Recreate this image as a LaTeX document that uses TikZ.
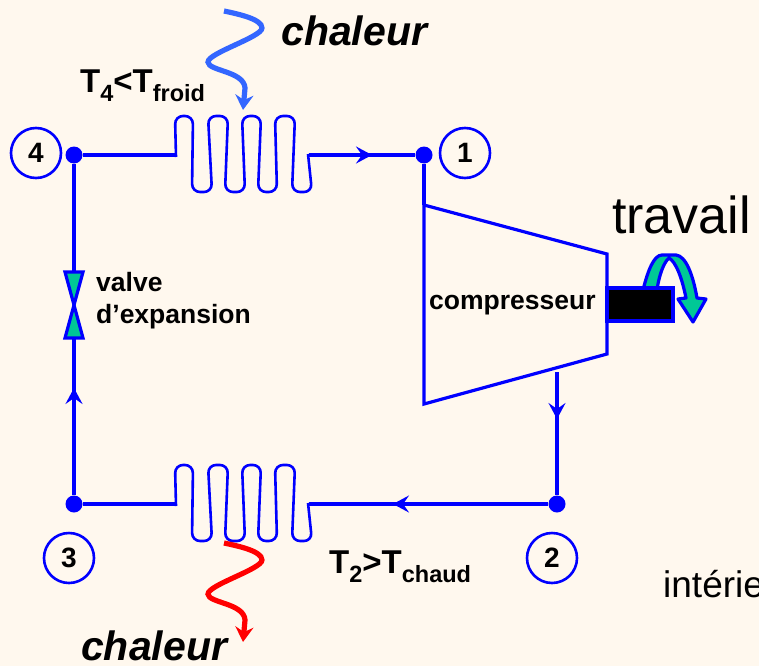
\documentclass[tikz,border=0pt]{standalone}
\usepackage{fontspec}
\setmainfont{Liberation Sans}
\usetikzlibrary{arrows.meta}
\definecolor{fondcreme}{HTML}{FFF8EE}
\definecolor{bleutrait}{HTML}{0000FF}
\definecolor{bleuchaleur}{HTML}{3366FF}
\definecolor{rougechaleur}{HTML}{FF0000}
\definecolor{vertvalve}{HTML}{00C896}
\newcommand{\fs}[1]{\fontsize{#1}{#1}\selectfont}
\newcommand{\sousc}[1]{\raisebox{-9pt}{\fs{23.5}#1}}
\tikzset{
	trait/.style={draw=bleutrait, line width=3.2pt},
	flowtip/.style={trait, -{Stealth[length=16pt, width=17pt, inset=6pt]}},
	dot/.style={circle, fill=bleutrait, inner sep=0pt, minimum size=17pt},
	etat/.style={circle, draw=bleutrait, line width=2.6pt, inner sep=0pt, minimum size=50pt, font=\fs{28}\bfseries},
	label/.style={anchor=base west, inner sep=0pt, font=\fs{26.5}\bfseries},
	temp/.style={anchor=base west, inner sep=0pt, font=\fs{33}\bfseries},
	chal/.style={anchor=base west, inner sep=0pt, font=\fs{41}\bfseries\itshape},
	plain/.style={anchor=base west, inner sep=0pt},
	coil/.pic={
		\coordinate (-in) at (0,0);
		\coordinate (-out) at (134,0);
		\draw[draw=bleutrait, line width=2.6pt, rounded corners=8pt] (1,2) -- (0,-39) -- (18,-39) -- (17,37) -- (37,37) -- (33,-39) -- (53,-39) -- (50,37) -- (70,37) -- (67,-39) -- (86,-39) -- (83,37) -- (102,37) -- (100,-39) -- (120,-39) -- (117,37) -- (137,37) -- (133,-1);
	},
	heatwave/.pic={
		\draw[line width=5.2pt, -{Stealth[length=15pt, width=18pt, inset=5pt]}, pic actions] (0,0) .. controls (14,3) and (38,8) .. (38,17) .. controls (38,26) and (-16,42) .. (-16,51) .. controls (-16,60) and (20,60) .. (21,77) -- (19,99);
	}
}
\begin{document}
\begin{tikzpicture}[x=1pt, y=-1pt]
	\fill[fondcreme] (0,0) rectangle (759,666);
	\useasboundingbox (0,0) rectangle (759,666);
	\node[dot] (p4) at (74,155) {};
	\node[dot] (p1) at (424,155) {};
	\node[dot] (p3) at (74,504) {};
	\node[dot] (p2) at (557,504) {};
	\node[etat] (e4) at (36,153) {4};
	\node[etat] (e1) at (465,153) {1};
	\node[etat] (e3) at (69,558) {3};
	\node[etat] (e2) at (552,558) {2};
	\pic (chaud) at (175,504) {coil};
	\pic (froid) at (175,155) {coil};
	\coordinate (a1) at (372,155);
	\coordinate (a2) at (557,419);
	\coordinate (a3) at (393,504);
	\coordinate (a4) at (74,388);
	\coordinate (c1) at (424,205);
	\coordinate (c2) at (607,254);
	\coordinate (c3) at (607,354);
	\coordinate (c4) at (424,404);
	\coordinate (sortie) at (557,372);
	\coordinate (vb) at (74,338);
	\coordinate (vh) at (74,272);
	\coordinate (v1) at (65,272);
	\coordinate (v2) at (83,272);
	\coordinate (v3) at (65,338);
	\coordinate (v4) at (83,338);
	\coordinate (vm) at (74,305);
	\draw[trait] (p4) -- (froid-in);
	\draw[trait] (froid-out) -- (p1);
	\draw[flowtip] (froid-out) -- (a1);
	\draw[trait] (p1) -- (c1);
	\draw[trait] (c1) -- (c2) -- (c3) -- (c4) -- cycle;
	\draw[trait] (sortie) -- (p2);
	\draw[flowtip] (sortie) -- (a2);
	\draw[trait] (p2) -- (chaud-out);
	\draw[flowtip] (p2) -- (a3);
	\draw[trait] (chaud-in) -- (p3);
	\draw[trait] (p3) -- (vb);
	\draw[flowtip] (p3) -- (a4);
	\draw[trait] (p4) -- (vh);
	\draw[trait, fill=vertvalve, line join=miter] (v1) -- (v2) -- (vm) -- cycle;
	\draw[trait, fill=vertvalve, line join=miter] (v3) -- (v4) -- (vm) -- cycle;
	\pic[draw=bleuchaleur] at (224,11) {heatwave};
	\pic[draw=rougechaleur] at (224,543) {heatwave};
	\draw[trait, fill=vertvalve, line join=round] (643,290) .. controls (648,270) and (654,255) .. (662,255) -- (676,255) .. controls (686,256) and (693,275) .. (697,298) -- (706,299) -- (693,322) -- (678,299) -- (686,298) .. controls (682,278) and (676,262) .. (669,258) .. controls (664,262) and (659,275) .. (657,290) -- cycle;
	\draw[draw=bleutrait, line width=2pt] (638,322) -- (653,322);
	\draw[trait, fill=black] (607,288) rectangle (673,321);
	\node[chal] (chalhaut) at (281,46) {chaleur};
	\node[chal] (chalbas) at (81,660) {chaleur};
	\node[temp] (tfroid) at (80,93) {T\sousc{4}<T\sousc{froid}};
	\node[temp] (tchaud) at (329,573) {T\sousc{2}>T\sousc{chaud}};
	\node[label] (valve) at (96,291) {valve};
	\node[label] (expansion) at (96,323) {d’expansion};
	\node[label] (compresseur) at (429,309) {compresseur};
	\node[plain, font=\fs{52}] (travail) at (612,233) {travail};
	\node[plain, font=\fs{37}] (interieur) at (663,597) {intérie};
\end{tikzpicture}
\end{document}
